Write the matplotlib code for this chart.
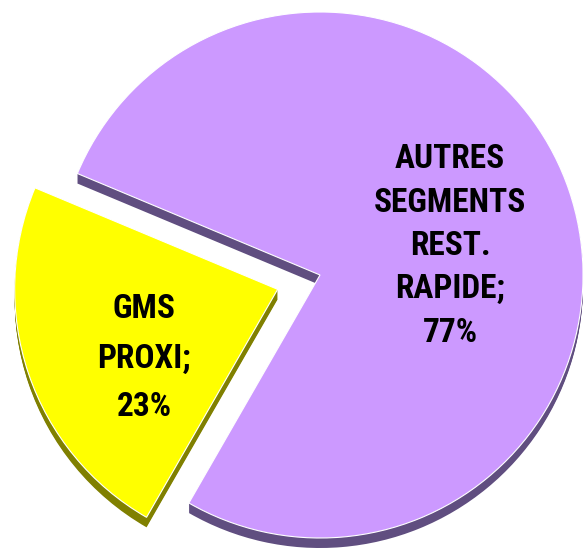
import matplotlib.pyplot as plt
from matplotlib import font_manager

segments = ['AUTRES\nSEGMENTS\nREST.\nRAPIDE', 'GMS\nPROXI']
shares = [77, 23]
top_colors = ['#CC99FF', '#FFFF00']
side_colors = ['#604E80', '#808000']
explode = [0, 0.17]

W, H = 586, 551
cx, cy = 320, H - 275   # pie centre in pixels (y up)
r = 263
depth = 10
start = 157.3

names = {f.name for f in font_manager.fontManager.ttflist}
prefs = ['Liberation Sans Narrow', 'Arial Narrow', 'Roboto Condensed',
         'Archivo Narrow', 'Liberation Sans']
font = next(f for f in prefs if f in names)

fig = plt.figure(figsize=(W / 100, H / 100), dpi=100)
ax = fig.add_axes([0, 0, 1, 1])

# pie explode offsets are in data units, so scale by radius
expl = [e * r for e in explode]

# extruded sides: stack of darker copies shifted down
for d in range(depth, 0, -1):
    ax.pie(shares, explode=expl, colors=side_colors, startangle=start,
           counterclock=False, center=(cx, cy - d), radius=r,
           wedgeprops=dict(linewidth=0))

# top faces
ax.pie(shares, explode=expl, colors=top_colors, startangle=start,
       counterclock=False, center=(cx, cy), radius=r,
       wedgeprops=dict(edgecolor='white', linewidth=0.8))

# labels (x, cap centre of first line, line step) in image pixels
label_pos = [(450, 157, 43.25), (144, 307, 49)]
cap = 23
for name, share, (x, y0, step) in zip(segments, shares, label_pos):
    lines = (name + ';\n' + str(share) + '%').split('\n')
    for i, line in enumerate(lines):
        yb = y0 + i * step + cap / 2
        ax.text(x, H - yb, line, ha='center', va='baseline',
                fontsize=24, family=font, weight=600, color='black')

ax.set_xlim(0, W)
ax.set_ylim(0, H)
ax.set_aspect('auto')
ax.axis('off')

fig.savefig('out.png', dpi=100)
